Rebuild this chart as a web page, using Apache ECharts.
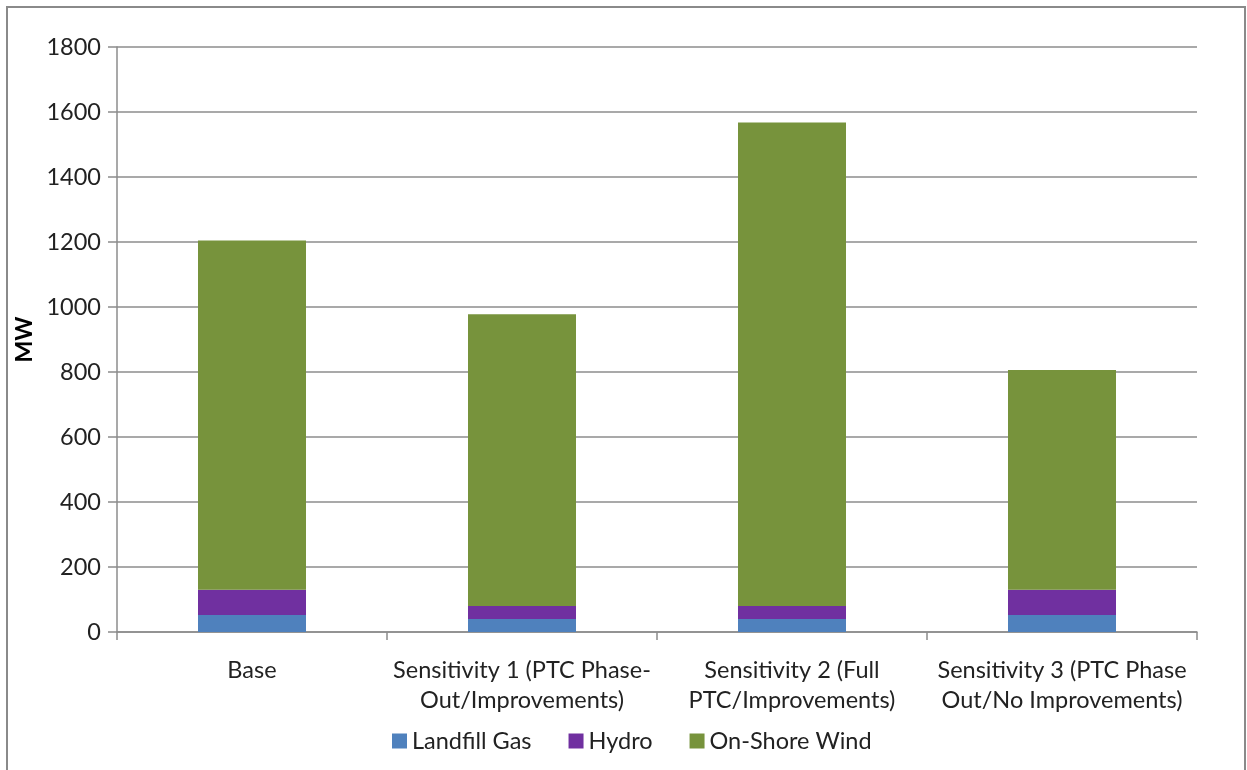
<!DOCTYPE html>
<html>
<head>
<meta charset="utf-8">
<script src="https://cdn.jsdelivr.net/npm/echarts@6/dist/echarts.min.js"></script>
<style>
  html, body { margin: 0; padding: 0; background: #fff; }
  #chart { width: 1247px; height: 770px; }
</style>
</head>
<body>
<div id="chart"></div>
<script>
// Scenario categories along the x axis
const categories = [
  'Base',
  'Sensitivity 1 (PTC Phase-\nOut/Improvements)',
  'Sensitivity 2 (Full\nPTC/Improvements)',
  'Sensitivity 3 (PTC Phase\nOut/No Improvements)'
];

// Installed capacity by resource (MW)
const landfillGas = [52, 40, 40, 52];
const hydro = [78, 40, 40, 78];
const onShoreWind = [1075, 898, 1488, 676];

const yTicks = [0, 200, 400, 600, 800, 1000, 1200, 1400, 1600, 1800];

const FONT = 'Lato, "Open Sans", sans-serif';
const TEXT_SIZE = 23.5;
const GRID_GRAY = '#8c8c8c';

const chart = echarts.init(document.getElementById('chart'), null, { renderer: 'canvas' });

const barBase = {
  type: 'bar',
  stack: 'mw',
  barWidth: '40%',
  emphasis: { disabled: true }
};

chart.setOption({
  animation: false,
  backgroundColor: '#fff',
  graphic: [{
    type: 'rect',
    shape: { x: 7, y: 7, width: 1238, height: 780 },
    style: { fill: 'none', stroke: '#8a8a8a', lineWidth: 2 },
    silent: true
  }],
  grid: { left: 117, right: 50, top: 47, bottom: 138, outerBoundsMode: 'none' },
  legend: {
    bottom: 12,
    left: 387,
    itemWidth: 15,
    itemHeight: 15,
    itemGap: 37,
    icon: 'rect',
    textStyle: { fontFamily: FONT, fontSize: TEXT_SIZE, color: '#222' },
    data: ['Landfill Gas', 'Hydro', 'On-Shore Wind']
  },
  xAxis: {
    type: 'category',
    data: categories,
    axisLine: { lineStyle: { color: GRID_GRAY, width: 1.5 } },
    axisTick: { show: true, length: 8, lineStyle: { color: GRID_GRAY, width: 1.5 } },
    axisLabel: {
      fontFamily: FONT, fontSize: TEXT_SIZE, color: '#222',
      lineHeight: 30, margin: 23, interval: 0
    }
  },
  yAxis: {
    type: 'value',
    min: yTicks[0],
    max: yTicks[yTicks.length - 1],
    interval: 200,
    name: 'MW',
    nameLocation: 'middle',
    nameGap: 77,
    nameRotate: 90,
    nameTextStyle: { fontFamily: FONT, fontSize: 23, fontWeight: 'bold', color: '#000' },
    axisLine: { show: true, lineStyle: { color: GRID_GRAY, width: 1.5 } },
    axisTick: { show: true, length: 9, lineStyle: { color: GRID_GRAY, width: 1.5 } },
    axisLabel: {
      fontFamily: FONT, fontSize: TEXT_SIZE, color: '#222', margin: 16,
      formatter: v => String(v)
    },
    splitLine: { lineStyle: { color: GRID_GRAY, width: 1.5 } }
  },
  series: [
    Object.assign({}, barBase, { name: 'Landfill Gas', data: landfillGas, itemStyle: { color: '#4F81BD' } }),
    Object.assign({}, barBase, { name: 'Hydro', data: hydro, itemStyle: { color: '#7030A0' } }),
    Object.assign({}, barBase, { name: 'On-Shore Wind', data: onShoreWind, itemStyle: { color: '#77933C' } })
  ]
});
</script>
</body>
</html>
